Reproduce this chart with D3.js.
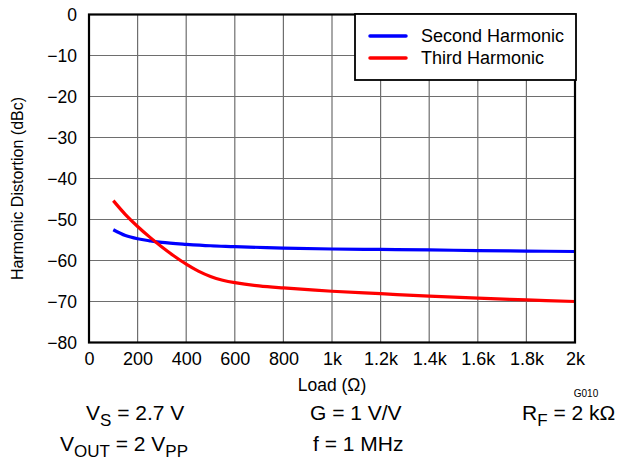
<!DOCTYPE html>
<html>
<head>
<meta charset="utf-8">
<script src="https://cdn.jsdelivr.net/npm/d3@7"></script>
<style>
  body { margin: 0; background: #fff; }
  text { font-family: "Liberation Sans", Arial, sans-serif; fill: #000; }
</style>
</head>
<body>
<svg id="chart" width="619" height="460"></svg>
<script>
// data (load in ohms, distortion in dBc)
var loads2 = [100, 150, 200, 250, 300, 400, 500, 600, 800, 1000, 1200, 1400, 1600, 1800, 2000];
var second = [-52.5, -53.9, -54.7, -55.2, -55.6, -56.05, -56.4, -56.6, -57.0, -57.2, -57.3, -57.4, -57.6, -57.7, -57.8];
var loads3 = [100, 150, 200, 250, 300, 350, 400, 450, 500, 550, 600, 700, 800, 1000, 1200, 1400, 1600, 1800, 2000];
var third = [-45.4, -48.8, -51.7, -54.3, -56.7, -58.9, -60.9, -62.6, -63.9, -64.8, -65.4, -66.2, -66.7, -67.5, -68.1, -68.7, -69.2, -69.6, -70.0];

var xTicks = [0, 200, 400, 600, 800, 1000, 1200, 1400, 1600, 1800, 2000];
var xTickLabels = ["0", "200", "400", "600", "800", "1k", "1.2k", "1.4k", "1.6k", "1.8k", "2k"];
var yTicks = [0, -10, -20, -30, -40, -50, -60, -70, -80];

var seriesNames = ["Second Harmonic", "Third Harmonic"];
var seriesColors = ["#0000ff", "#ff0000"];

var svg = d3.select("#chart");

var mLeft = 89, mRight = 575, mTop = 14.5, mBottom = 342.5;

var x = d3.scaleLinear().domain([0, 2000]).range([mLeft, mRight]);
var y = d3.scaleLinear().domain([-80, 0]).range([mBottom, mTop]);

// grid
svg.append("g").selectAll("line").data(xTicks).join("line")
  .attr("x1", d => x(d)).attr("x2", d => x(d))
  .attr("y1", mTop).attr("y2", mBottom)
  .attr("stroke", "#6e6e6e").attr("stroke-width", 1.2);
svg.append("g").selectAll("line").data(yTicks).join("line")
  .attr("x1", mLeft).attr("x2", mRight)
  .attr("y1", d => y(d)).attr("y2", d => y(d))
  .attr("stroke", "#6e6e6e").attr("stroke-width", 1.2);

// axes (labels only, frame drawn separately)
var xAxis = d3.axisBottom(x).tickValues(xTicks)
  .tickFormat((d, i) => xTickLabels[i]).tickSize(0).tickPadding(10);
var gx = svg.append("g").attr("transform", "translate(0," + mBottom + ")").call(xAxis);
gx.select(".domain").remove();
gx.selectAll("text").style("font-size", "18px").style("font-family", "Liberation Sans, Arial, sans-serif");

var yAxis = d3.axisLeft(y).tickValues(yTicks)
  .tickFormat(d => d === 0 ? "0" : "\u2212" + Math.abs(d)).tickSize(0).tickPadding(12);
var gy = svg.append("g").attr("transform", "translate(" + mLeft + ",0)").call(yAxis);
gy.select(".domain").remove();
gy.selectAll("text").style("font-size", "17.5px").style("font-family", "Liberation Sans, Arial, sans-serif");

// curves
var line = d3.line().x(d => x(d[0])).y(d => y(d[1])).curve(d3.curveCatmullRom.alpha(0.5));
var data2 = loads2.map((l, i) => [l, second[i]]);
var data3 = loads3.map((l, i) => [l, third[i]]);
svg.append("path").datum(data2).attr("d", line)
  .attr("fill", "none").attr("stroke", seriesColors[0]).attr("stroke-width", 3.2);
svg.append("path").datum(data3).attr("d", line)
  .attr("fill", "none").attr("stroke", seriesColors[1]).attr("stroke-width", 3.2);

// frame
svg.append("rect").attr("x", mLeft).attr("y", mTop)
  .attr("width", mRight - mLeft).attr("height", mBottom - mTop)
  .attr("fill", "none").attr("stroke", "#000").attr("stroke-width", 2.2);

// legend
var lg = svg.append("g");
lg.append("rect").attr("x", 355).attr("y", 14).attr("width", 221).attr("height", 66)
  .attr("fill", "#fff").attr("stroke", "#000").attr("stroke-width", 1.8);
seriesNames.forEach(function (name, i) {
  var ly = 36 + i * 22;
  lg.append("line").attr("x1", 370).attr("x2", 406).attr("y1", ly).attr("y2", ly)
    .attr("stroke", seriesColors[i]).attr("stroke-width", 3.5).attr("stroke-linecap", "round");
  lg.append("text").attr("x", 421).attr("y", ly).attr("dy", "0.35em")
    .style("font-size", "18px").text(name);
});

// axis titles
svg.append("text").attr("x", (mLeft + mRight) / 2).attr("y", 391)
  .attr("text-anchor", "middle").style("font-size", "17.5px").text("Load (\u03A9)");
svg.append("text").attr("transform", "translate(23,188.5) rotate(-90)")
  .attr("text-anchor", "middle").style("font-size", "16px").text("Harmonic Distortion (dBc)");
svg.append("text").attr("x", 586).attr("y", 397).attr("text-anchor", "middle")
  .style("font-size", "10px").text("G010");

// conditions
function cond(xp, yp, parts) {
  var t = svg.append("text").attr("x", xp).attr("y", yp).style("font-size", "21px");
  parts.forEach(function (p) {
    var s = t.append("tspan").text(p[0]);
    if (p[1]) s.attr("dy", "6").style("font-size", "17px");
    else if (p[2]) s.attr("dy", "-6");
  });
}
cond(86, 420, [["V"], ["S", true], [" = 2.7 V", false, true]]);
cond(60, 451, [["V"], ["OUT", true], [" = 2 V", false, true], ["PP", true]]);
cond(310, 420, [["G = 1 V/V"]]);
cond(313, 451, [["f = 1 MHz"]]);
cond(522, 420, [["R"], ["F", true], [" = 2 k\u03A9", false, true]]);
</script>
</body>
</html>
